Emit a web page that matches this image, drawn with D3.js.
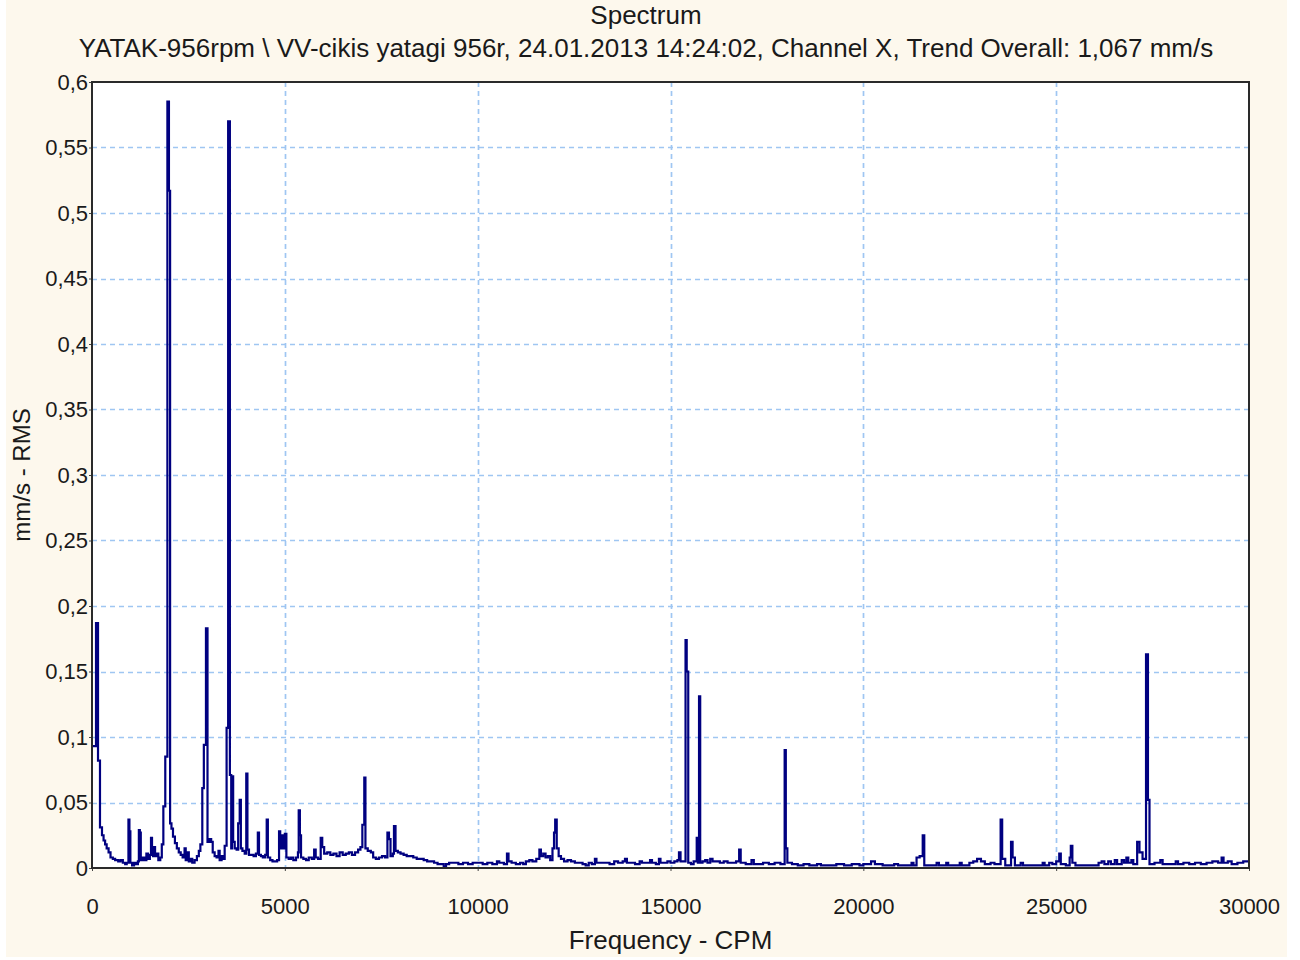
<!DOCTYPE html>
<html>
<head>
<meta charset="utf-8">
<script src="https://cdn.jsdelivr.net/npm/d3@7"></script>
<style>
body { margin: 0; background: #fff; }
text { font-family: "Liberation Sans", Arial, sans-serif; fill: #1a1a1a; }
</style>
</head>
<body>
<svg id="chart" width="1300" height="960"></svg>
<script>
var title = "Spectrum";
var subtitle = "YATAK-956rpm \\ VV-cikis yatagi 956r, 24.01.2013 14:24:02, Channel X, Trend Overall: 1,067 mm/s";
var xTitle = "Frequency - CPM";
var yTitle = "mm/s - RMS";

var xTicks = [0, 5000, 10000, 15000, 20000, 25000, 30000];
var yTicks = [0, 0.05, 0.1, 0.15, 0.2, 0.25, 0.3, 0.35, 0.4, 0.45, 0.5, 0.55, 0.6];

// spectrum: [CPM, mm/s], each value holds until the next point
var band0to3k = [
    [0, 0.093], [104, 0.187], [156, 0.082], [207, 0.031], [259, 0.025], [300, 0.021], [340, 0.018],
    [380, 0.015], [430, 0.012], [480, 0.008], [540, 0.007], [600, 0.006], [680, 0.005], [740, 0.006],
    [800, 0.004], [860, 0.003], [900, 0.004], [945, 0.037], [970, 0.028], [995, 0.004], [1040, 0.002],
    [1090, 0.004], [1140, 0.003], [1190, 0.005], [1215, 0.029], [1240, 0.027], [1265, 0.006], [1320, 0.008],
    [1370, 0.006], [1410, 0.011], [1450, 0.007], [1500, 0.01], [1530, 0.023], [1556, 0.015], [1582, 0.009],
    [1608, 0.016], [1635, 0.009], [1670, 0.011], [1720, 0.006], [1770, 0.008], [1810, 0.018], [1850, 0.047],
    [1900, 0.085], [1955, 0.585], [1995, 0.517], [2025, 0.034], [2060, 0.03], [2100, 0.024], [2150, 0.019],
    [2200, 0.015], [2250, 0.012], [2300, 0.01], [2350, 0.008], [2400, 0.015], [2430, 0.006], [2480, 0.012],
    [2510, 0.005], [2560, 0.007], [2600, 0.004], [2660, 0.006], [2720, 0.009], [2770, 0.013], [2810, 0.018],
    [2860, 0.061], [2900, 0.094], [2955, 0.183], [2995, 0.02]
];
var band3kto6k = [
    [3040, 0.022], [3090, 0.02], [3130, 0.012], [3180, 0.009], [3230, 0.008], [3280, 0.013], [3310, 0.006],
    [3360, 0.009], [3400, 0.007], [3440, 0.017], [3490, 0.107], [3530, 0.57], [3575, 0.071], [3610, 0.015],
    [3630, 0.07], [3660, 0.02], [3700, 0.015], [3750, 0.014], [3790, 0.034], [3830, 0.052], [3860, 0.015],
    [3900, 0.013], [3960, 0.011], [4000, 0.072], [4030, 0.014], [4070, 0.01], [4130, 0.01], [4190, 0.009],
    [4250, 0.011], [4300, 0.027], [4330, 0.01], [4380, 0.009], [4430, 0.008], [4490, 0.01], [4530, 0.037],
    [4560, 0.008], [4620, 0.006], [4680, 0.005], [4740, 0.005], [4800, 0.006], [4850, 0.028], [4880, 0.015],
    [4920, 0.025], [4960, 0.015], [5000, 0.026], [5040, 0.008], [5100, 0.007], [5160, 0.008], [5220, 0.006],
    [5290, 0.008], [5340, 0.012], [5360, 0.044], [5390, 0.025], [5420, 0.008], [5480, 0.007], [5550, 0.006],
    [5620, 0.008], [5700, 0.007], [5760, 0.014], [5800, 0.008], [5860, 0.007], [5930, 0.023], [5970, 0.016]
];
var band6kto10k = [
    [6020, 0.011], [6100, 0.012], [6180, 0.01], [6260, 0.011], [6340, 0.009], [6420, 0.012], [6500, 0.01],
    [6580, 0.011], [6660, 0.012], [6740, 0.01], [6820, 0.012], [6900, 0.014], [6960, 0.016], [7010, 0.033],
    [7060, 0.069], [7090, 0.015], [7150, 0.013], [7230, 0.012], [7290, 0.008], [7360, 0.007], [7440, 0.008],
    [7520, 0.009], [7600, 0.008], [7660, 0.027], [7700, 0.022], [7740, 0.009], [7800, 0.011], [7830, 0.032],
    [7870, 0.013], [7930, 0.012], [8000, 0.011], [8080, 0.01], [8160, 0.009], [8240, 0.009], [8330, 0.008],
    [8420, 0.007], [8510, 0.007], [8600, 0.006], [8690, 0.005], [8780, 0.005], [8870, 0.004], [8960, 0.003],
    [9050, 0.003], [9120, 0.001], [9180, 0.003], [9260, 0.004], [9380, 0.004], [9500, 0.003], [9620, 0.004],
    [9750, 0.003], [9870, 0.004]
];
var band10kto15k = [
    [10000, 0.004], [10130, 0.003], [10250, 0.004], [10380, 0.003], [10500, 0.005], [10560, 0.004],
    [10680, 0.003], [10760, 0.011], [10800, 0.005], [10880, 0.004], [10990, 0.003], [11100, 0.004],
    [11180, 0.003], [11250, 0.005], [11340, 0.006], [11420, 0.005], [11520, 0.007], [11600, 0.014],
    [11640, 0.009], [11700, 0.011], [11760, 0.008], [11820, 0.009], [11880, 0.006], [11940, 0.015],
    [11980, 0.027], [12010, 0.037], [12050, 0.015], [12100, 0.009], [12160, 0.007], [12240, 0.005],
    [12330, 0.006], [12420, 0.005], [12520, 0.004], [12620, 0.004], [12720, 0.003], [12800, 0.002],
    [12880, 0.004], [12960, 0.003], [13040, 0.007], [13080, 0.004], [13180, 0.004], [13300, 0.004],
    [13420, 0.003], [13540, 0.005], [13640, 0.004], [13760, 0.005], [13820, 0.007], [13870, 0.004],
    [13960, 0.004], [14080, 0.003], [14200, 0.005], [14260, 0.004], [14360, 0.004], [14470, 0.006],
    [14520, 0.004], [14620, 0.003], [14700, 0.007], [14740, 0.004], [14820, 0.004], [14920, 0.005]
];
var band15kto20k = [
    [15000, 0.004], [15100, 0.005], [15180, 0.006], [15220, 0.012], [15260, 0.005], [15330, 0.005],
    [15390, 0.174], [15420, 0.15], [15460, 0.004], [15530, 0.003], [15600, 0.005], [15680, 0.023],
    [15710, 0.004], [15740, 0.131], [15770, 0.004], [15830, 0.005], [15900, 0.006], [15960, 0.004],
    [16030, 0.007], [16090, 0.005], [16180, 0.005], [16280, 0.004], [16380, 0.005], [16480, 0.004],
    [16580, 0.004], [16700, 0.005], [16780, 0.014], [16820, 0.004], [16950, 0.003], [17100, 0.006],
    [17160, 0.003], [17300, 0.003], [17400, 0.004], [17550, 0.003], [17700, 0.004], [17850, 0.003],
    [17960, 0.09], [17990, 0.015], [18030, 0.004], [18150, 0.003], [18300, 0.002], [18450, 0.003],
    [18600, 0.002], [18800, 0.003], [18900, 0.002], [19100, 0.002], [19300, 0.003], [19500, 0.002],
    [19700, 0.003], [19900, 0.002]
];
var band20kto25k = [
    [20000, 0.003], [20200, 0.005], [20300, 0.003], [20500, 0.002], [20800, 0.003], [20900, 0.002],
    [21100, 0.002], [21250, 0.004], [21300, 0.002], [21380, 0.008], [21460, 0.009], [21540, 0.025],
    [21580, 0.002], [21700, 0.002], [21900, 0.004], [21960, 0.002], [22150, 0.004], [22200, 0.002],
    [22500, 0.004], [22550, 0.002], [22750, 0.004], [22850, 0.005], [22950, 0.007], [23050, 0.005],
    [23150, 0.003], [23300, 0.004], [23400, 0.003], [23560, 0.037], [23600, 0.007], [23680, 0.002],
    [23830, 0.02], [23870, 0.008], [23930, 0.002], [24080, 0.004], [24140, 0.002], [24300, 0.002],
    [24650, 0.004], [24700, 0.002], [24820, 0.004], [24900, 0.003]
];
var band25kto30k = [
    [25000, 0.005], [25080, 0.011], [25120, 0.003], [25250, 0.002], [25350, 0.008], [25380, 0.017],
    [25420, 0.004], [25500, 0.002], [25700, 0.002], [26100, 0.004], [26180, 0.005], [26250, 0.003],
    [26350, 0.005], [26420, 0.003], [26520, 0.006], [26580, 0.003], [26700, 0.006], [26760, 0.004],
    [26820, 0.008], [26870, 0.004], [26950, 0.006], [27000, 0.003], [27100, 0.02], [27160, 0.012],
    [27240, 0.007], [27330, 0.163], [27380, 0.052], [27420, 0.003], [27550, 0.004], [27700, 0.006],
    [27760, 0.003], [27900, 0.003], [28100, 0.005], [28160, 0.003], [28300, 0.004], [28450, 0.003],
    [28600, 0.004], [28750, 0.003], [28900, 0.004], [29050, 0.005], [29200, 0.004], [29290, 0.008],
    [29340, 0.004], [29450, 0.005], [29550, 0.003], [29700, 0.004], [29850, 0.005], [30000, 0.005]
];

var spectrum = [].concat(band0to3k, band3kto6k, band6kto10k, band10kto15k,
    band15kto20k, band20kto25k, band25kto30k);

var plotLeft = 92, plotRight = 1249, plotTop = 82, plotBottom = 868;

var svg = d3.select("#chart");

// beige panel
svg.append("rect")
    .attr("x", 6).attr("y", 0)
    .attr("width", 1281).attr("height", 957)
    .attr("fill", "#fdf8ed");

var x = d3.scaleLinear().domain([0, 30000]).range([plotLeft, plotRight]);
var y = d3.scaleLinear().domain([0, 0.6]).range([plotBottom, plotTop]);

svg.append("rect")
    .attr("x", plotLeft).attr("y", plotTop)
    .attr("width", plotRight - plotLeft).attr("height", plotBottom - plotTop)
    .attr("fill", "#fff");

// grid
svg.append("g")
    .selectAll("line")
    .data(xTicks.slice(1, -1))
    .enter().append("line")
    .attr("x1", function (d) { return Math.round(x(d)) + 0.5; })
    .attr("x2", function (d) { return Math.round(x(d)) + 0.5; })
    .attr("y1", plotTop).attr("y2", plotBottom)
    .attr("stroke", "#9fc6f2")
    .attr("stroke-width", 1.7)
    .attr("stroke-dasharray", "5,4");

svg.append("g")
    .selectAll("line")
    .data(yTicks.slice(1, -1))
    .enter().append("line")
    .attr("y1", function (d) { return Math.round(y(d)) + 0.5; })
    .attr("y2", function (d) { return Math.round(y(d)) + 0.5; })
    .attr("x1", plotLeft).attr("x2", plotRight)
    .attr("stroke", "#9fc6f2")
    .attr("stroke-width", 1.7)
    .attr("stroke-dasharray", "5,4");

svg.append("clipPath").attr("id", "plotclip")
    .append("rect")
    .attr("x", plotLeft).attr("y", plotTop)
    .attr("width", plotRight - plotLeft).attr("height", plotBottom - plotTop);

var line = d3.line()
    .x(function (d) { return x(d[0]); })
    .y(function (d) { return y(d[1]); })
    .curve(d3.curveStepAfter);

svg.append("path")
    .datum(spectrum)
    .attr("clip-path", "url(#plotclip)")
    .attr("d", line)
    .attr("fill", "none")
    .attr("stroke", "#000080")
    .attr("stroke-width", 2.2);

// axes
var comma = function (d) { return String(d).replace(".", ","); };

var yAxis = svg.append("g")
    .attr("transform", "translate(" + plotLeft + ",0)")
    .call(d3.axisLeft(y).tickValues(yTicks).tickFormat(comma).tickSize(3).tickPadding(1));
yAxis.select(".domain").remove();
yAxis.selectAll("text").style("font-size", "22px").attr("fill", "#1a1a1a");
yAxis.selectAll("line").attr("stroke", "#444");

var xAxis = svg.append("g")
    .attr("transform", "translate(0," + plotBottom + ")")
    .call(d3.axisBottom(x).tickValues(xTicks).tickFormat(d3.format("d")).tickSize(3).tickPadding(27));
xAxis.select(".domain").remove();
xAxis.selectAll("text").style("font-size", "22px").attr("fill", "#1a1a1a");
xAxis.selectAll("line").attr("stroke", "#444");

// plot frame
svg.append("rect")
    .attr("x", plotLeft).attr("y", plotTop)
    .attr("width", plotRight - plotLeft).attr("height", plotBottom - plotTop)
    .attr("fill", "none")
    .attr("stroke", "#2a2a2a")
    .attr("stroke-width", 2);

// titles
svg.append("text")
    .attr("x", 646).attr("y", 24)
    .attr("text-anchor", "middle")
    .style("font-size", "26px")
    .text(title);

svg.append("text")
    .attr("x", 646).attr("y", 57)
    .attr("text-anchor", "middle")
    .style("font-size", "26px")
    .text(subtitle);

svg.append("text")
    .attr("x", (plotLeft + plotRight) / 2).attr("y", 949)
    .attr("text-anchor", "middle")
    .style("font-size", "26px")
    .text(xTitle);

svg.append("text")
    .attr("transform", "translate(30," + (plotTop + plotBottom) / 2 + ") rotate(-90)")
    .attr("text-anchor", "middle")
    .style("font-size", "24px")
    .text(yTitle);
</script>
</body>
</html>
